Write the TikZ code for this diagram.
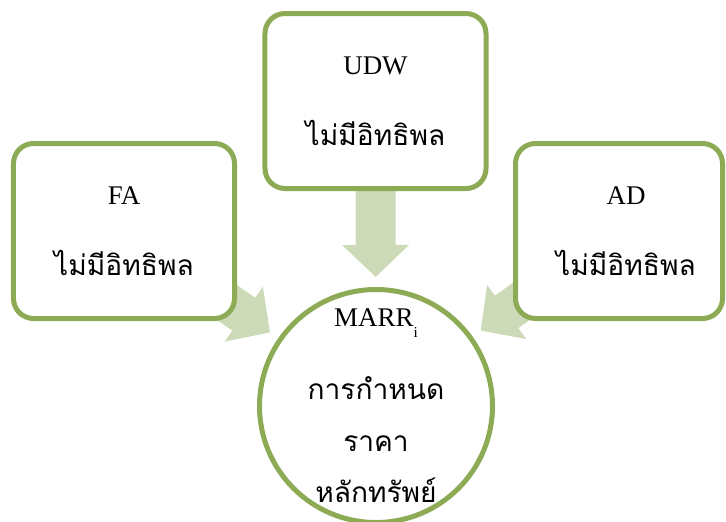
\documentclass[tikz,border=0pt]{standalone}
\usepackage{fontspec}
\setmainfont{Liberation Serif}
\newfontfamily\thaifont[Script=Thai]{Loma}
\usetikzlibrary{arrows.meta,backgrounds}
\definecolor{boxgreen}{HTML}{8DAA55}
\definecolor{arrowgreen}{HTML}{CCDAB8}
\newcommand{\enword}[1]{{\rmfamily\fontsize{23}{61}\selectfont #1}}
\tikzset{
	infobox/.style={draw=boxgreen, line width=0.15cm, fill=white, rounded corners=0.6cm,
		minimum width=6.63cm, minimum height=5.25cm, align=center,
		font=\fontsize{24}{61}\selectfont},
	marrcircle/.style={draw=boxgreen, line width=0.15cm, fill=white, circle,
		minimum size=6.99cm, inner sep=0pt},
	bigarrow/.style={draw=arrowgreen, line width=1.2cm,
		-{Triangle[length=0.96cm,width=1.95cm]}, shorten >=0.3cm},
}

\begin{document}
\begin{tikzpicture}[x=0.03cm, y=-0.03cm]
		%%%%% START %%%%%
		\useasboundingbox (0, 0) rectangle (726, 521);
		\clip (0, 0) rectangle (726, 521);
		
		\node[infobox] (fa) at (124, 231) {\enword{FA}\\\thaifont ไม่มีอิทธิพล};
		\node[infobox] (udw) at (375.5, 101) {\enword{UDW}\\\thaifont ไม่มีอิทธิพล};
		\node[infobox, minimum width=6.21cm] (ad) at (619, 231)
			{\hspace*{0.42cm}\enword{AD}\\\hspace*{0.42cm}\thaifont ไม่มีอิทธิพล};
		
		\node[marrcircle] (marr) at (376, 406) {};
		\node[align=center, font=\fontsize{24}{44.2}\selectfont\thaifont] (marrtext) at (marr)
			{\enword{MARR}\raisebox{-0.33cm}{\rmfamily\fontsize{13}{13}\selectfont i}\\[17.9pt]
			การกำหนด\\ราคา\\หลักทรัพย์};
		
		\begin{scope}[on background layer]
			\draw[bigarrow] (fa.center) -- (marr);
			\draw[bigarrow] (udw.south) -- (marr);
			\draw[bigarrow] (ad.center) -- (marr);
		\end{scope}
		
		%%%%% END %%%%%
\end{tikzpicture}
\end{document}
